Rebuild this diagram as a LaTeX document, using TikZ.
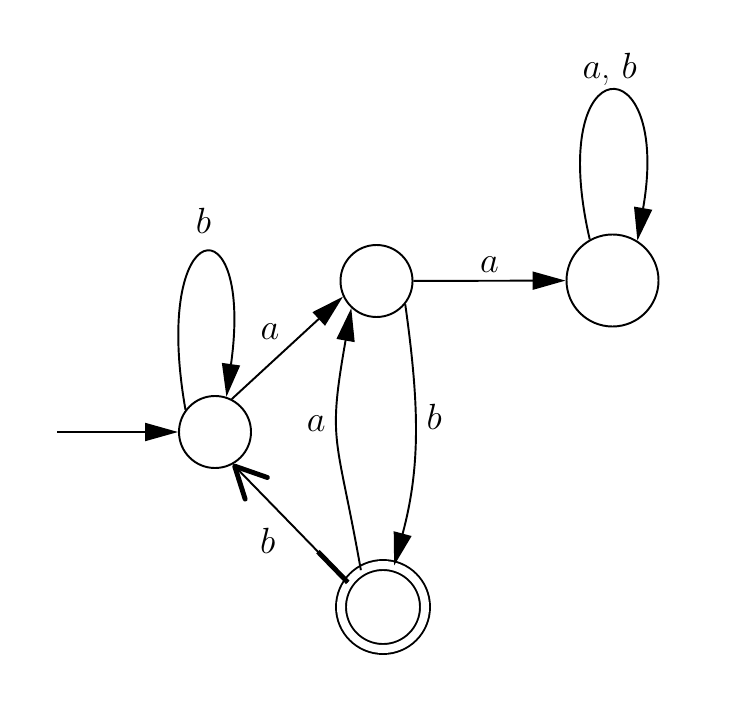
\documentclass[tikz,border=0pt]{standalone}
\usepackage{tikz}
\usetikzlibrary{calc,arrows.meta,positioning}
\tikzset{
    dfa state/.style={
        draw,circle,
        fill=white,
        minimum size=1.44cm,inner sep=0pt
    },
    final state/.style={
        dfa state,
        double,double distance=0.16cm,
        minimum size=1.68cm
    },
    edge label/.style={font=\huge,inner sep=4pt},
    >={Triangle[length=0.66cm,width=0.36cm]}
}
\begin{document}
\begin{tikzpicture}[line width=1.1pt]
\useasboundingbox (0,0) rectangle (15.08,14.4);
\node[dfa state] (q0) at (4.30,5.76) {};
\node[dfa state] (q1) at (7.53,8.78) {};
\node[dfa state,minimum size=1.84cm] (q2) at (12.25,8.79) {};
\node[final state] (q3) at (7.66,2.26) {};
\coordinate (start) at (1.14,5.76);

\draw[->] (start) -- (q0);
\draw[->] (q0.143) to[out=100,in=82,distance=4cm] node[edge label,above=8pt] {$b$} (q0.72);
\draw[->] (q0.63) -- node[edge label,above left] {$a$} (q1.205);
\draw[->] (q1) -- node[edge label,above] {$a$} (q2);
\draw[->] (q2.119) to[out=103,in=80,distance=4cm] node[edge label,above] {$a$, $b$} (q2.58);
\draw[->] (q1.321) to[out=-82,in=75,looseness=1.0] node[edge label,right=2pt,pos=0.42] {$b$} (q3.75);
\draw[->] (q3.121) to[out=100,in=-100,looseness=1.36] node[edge label,left=2pt,pos=0.58] {$a$} (q1.227);
\draw[-{Straight Barb[length=0.62cm,width=0.62cm,line width=2.8pt,round]}] (q3.145) -- node[edge label,below left=-2pt and 4pt] {$b$} (q0.299);
\draw[line width=2.8pt] (q3.145) -- ($(q3.145)!0.26!(q0.299)$);
\end{tikzpicture}
\end{document}
